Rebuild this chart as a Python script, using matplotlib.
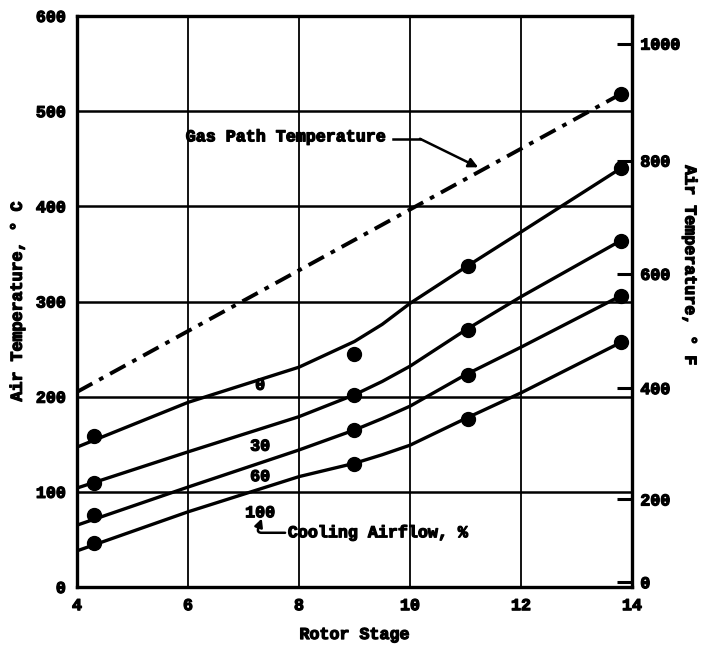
import numpy as np
import matplotlib.pyplot as plt
import matplotlib.patheffects as pe

plt.rcParams['font.family'] = ['Liberation Mono', 'DejaVu Sans Mono']
plt.rcParams['font.weight'] = 'bold'

# faired curves, air temperature (deg C) vs rotor stage
stage = [4, 6, 8, 9, 9.5, 10, 11, 12, 13.8]
curve_0 = [147, 194, 231, 258, 276, 298, 336, 373, 440]
curve_30 = [104, 142, 179, 202, 216, 232, 270, 305, 364]
curve_60 = [65, 105, 144, 165, 177, 190, 223, 252, 306]
curve_100 = [38, 79, 116, 130, 139, 149, 177, 204, 257]

# measured points
stage_pts = [4.3, 9.0, 11.05, 13.8]
pts_0 = [159, 245, 337, 440]
pts_30 = [109, 202, 270, 364]
pts_60 = [76, 165, 223, 306]
pts_100 = [46, 129, 177, 257]

# gas path temperature
gas_stage = [4, 13.8]
gas_temp = [205, 518]

# right hand scale, deg F, printed at these deg C heights
f_ticks = [0, 200, 400, 600, 800, 1000]
f_tick_c = [5, 92, 209, 329, 448, 571]

heavy = [pe.withStroke(linewidth=0.9, foreground='black')]
FS = 12

fig = plt.figure(figsize=(7.05, 6.47), dpi=100)
ax = fig.add_axes([0.1092, 0.0927, 0.7872, 0.8826])

for x in [6, 8, 10, 12]:
    ax.axvline(x, color='black', lw=1.3, zorder=1)
for y in [100, 200, 300, 400, 500]:
    ax.axhline(y, color='black', lw=1.8, zorder=1)

for cy in [curve_0, curve_30, curve_60, curve_100]:
    ax.plot(stage, cy, color='black', lw=2.4, solid_capstyle='round', zorder=3)
for py in [pts_0, pts_30, pts_60, pts_100]:
    ax.plot(stage_pts, py, 'o', color='black', ms=10, zorder=4)

ax.plot(gas_stage, gas_temp, color='black', lw=2.8,
        dashes=(4.5, 2, 1.2, 2), zorder=3)
ax.plot(gas_stage[-1], gas_temp[-1], 'o', color='black', ms=10, zorder=4)

ax.set_xlim(4, 14)
ax.set_ylim(0, 600)
ax.set_xticks([4, 6, 8, 10, 12, 14])
ax.set_yticks([0, 100, 200, 300, 400, 500, 600])
ax.tick_params(length=0, labelsize=FS, pad=8)
for s in ax.spines.values():
    s.set_linewidth(2.4)

ax.set_xlabel('Rotor Stage', fontsize=FS, fontweight='bold', labelpad=10)
ax.set_ylabel('Air Temperature, ° C', fontsize=FS, fontweight='bold', labelpad=8)

ax2 = ax.twinx()
ax2.set_ylim(0, 600)
ax2.set_yticks(f_tick_c, labels=[str(v) for v in f_ticks])
ax2.tick_params(direction='in', length=11, width=2.2, labelsize=FS, pad=6)
for s in ax2.spines.values():
    s.set_visible(False)
fig.text(0.979, 0.59, 'Air Temperature, ° F', fontsize=FS, fontweight='bold',
         rotation=-90, ha='center', va='center')

# annotations
ax.text(5.96, 473, 'Gas Path Temperature', fontsize=FS, fontweight='bold',
        va='center', ha='left')
ax.plot([9.69, 10.18], [471, 471], color='black', lw=1.8)
ax.annotate('', xy=(11.23, 441), xytext=(10.18, 471),
            arrowprops=dict(arrowstyle='-|>', color='black', lw=1.8,
                            mutation_scale=14, shrinkA=0, shrinkB=0))

for txt, y in [('0', 212), ('30', 148), ('60', 116), ('100', 78)]:
    ax.text(7.3, y, txt, fontsize=FS, fontweight='bold', ha='center', va='center')

ax.text(7.8, 57, 'Cooling Airflow, %', fontsize=FS, fontweight='bold',
        va='center', ha='left')
ax.annotate('', xy=(7.33, 72), xytext=(7.75, 57),
            arrowprops=dict(arrowstyle='-|>', color='black', lw=1.8,
                            mutation_scale=12, shrinkA=0, shrinkB=0,
                            connectionstyle='angle,angleA=0,angleB=70,rad=5'))

for t in fig.findobj(plt.Text):
    t.set_path_effects(heavy)

fig.savefig('out.png', dpi=100)
